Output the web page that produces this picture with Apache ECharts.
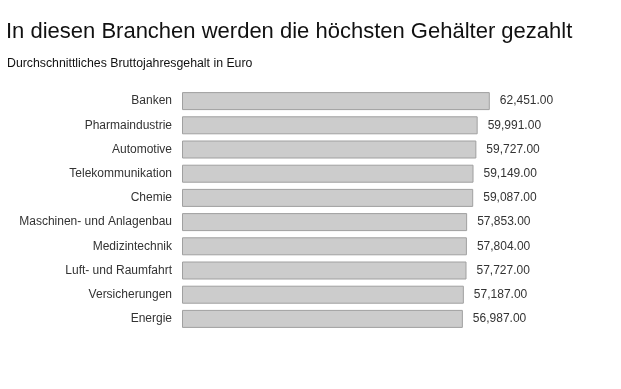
<!DOCTYPE html>
<html><head><meta charset="utf-8">
<script src="https://cdn.jsdelivr.net/npm/echarts@6/dist/echarts.min.js"></script>
<style>html,body{margin:0;padding:0;background:#fff}#c{width:621px;height:389px}</style>
</head><body><div id="c"></div>
<script>
const categories = ["Banken","Pharmaindustrie","Automotive","Telekommunikation","Chemie","Maschinen- und Anlagenbau","Medizintechnik","Luft- und Raumfahrt","Versicherungen","Energie"];
const values = [62451,59991,59727,59149,59087,57853,57804,57727,57187,56987];
const titleText = "In diesen Branchen werden die höchsten Gehälter gezahlt";
const subtitleText = "Durchschnittliches Bruttojahresgehalt in Euro";

const chart = echarts.init(document.getElementById('c'), null, {renderer:'canvas'});
chart.setOption({
  animation:false,
  title:[
    {text:titleText,left:6,top:21,padding:0,textStyle:{fontFamily:'Liberation Sans, Arial',fontSize:22,fontWeight:'normal',color:'#111'}},
    {text:subtitleText,left:7,top:58,padding:0,textStyle:{fontFamily:'Liberation Sans, Arial',fontSize:12.3,fontWeight:'normal',color:'#111'}}
  ],
  grid:{left:182,right:94,top:89,bottom:58,containLabel:false},
  xAxis:{type:'value',min:0,max:70000,show:false},
  yAxis:{type:'category',data:categories,inverse:true,
    axisLine:{show:false},axisTick:{show:false},
    axisLabel:{margin:10,fontFamily:'Liberation Sans, Arial',fontSize:12,color:'#333'}},
  series:[{type:'bar',data:values,barWidth:18,
    itemStyle:{color:'#cccccc',borderColor:'#a0a0a0',borderWidth:1},
    label:{show:true,position:'right',distance:10,fontFamily:'Liberation Sans, Arial',fontSize:12,color:'#333',
      formatter:p=>p.value.toLocaleString('en-US',{minimumFractionDigits:2,maximumFractionDigits:2})}
  }]
});
</script></body></html>
